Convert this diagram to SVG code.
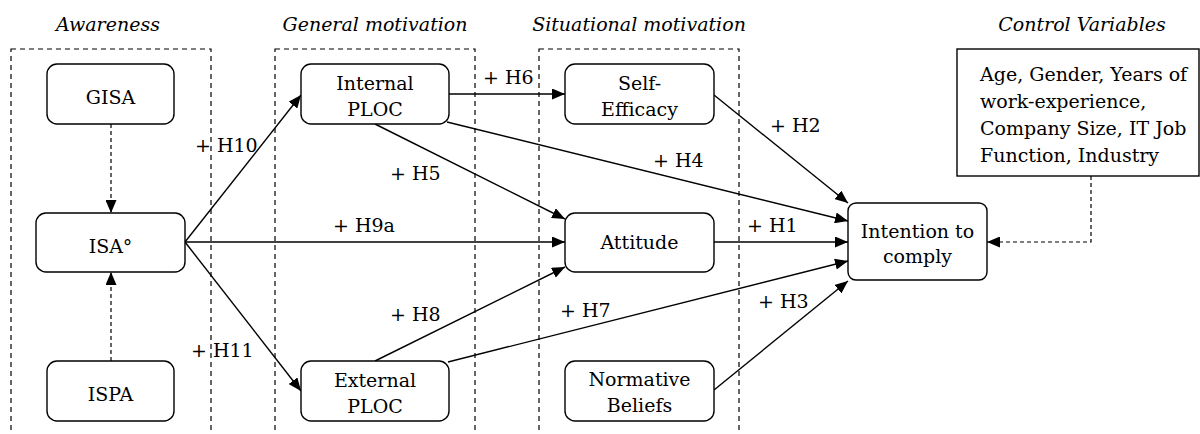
<svg xmlns="http://www.w3.org/2000/svg" width="1200" height="434" viewBox="0 0 1200 434">
<defs>
<marker id="arr" markerUnits="userSpaceOnUse" markerWidth="13" markerHeight="11" refX="13" refY="5.5" orient="auto"><path d="M0,0 L13,5.5 L0,11 z" fill="#000"/></marker>
<style>
text{font-family:"DejaVu Serif","Liberation Serif",serif;font-size:19px;fill:#000}
.hdr{font-style:italic;text-anchor:middle}
.grp{fill:none;stroke:#000;stroke-width:1.2;stroke-dasharray:5,4}
.node rect{fill:#fff;stroke:#000;stroke-width:1.4}
.node text{text-anchor:middle}
.c{fill:none;stroke:#000;stroke-width:1.4;marker-end:url(#arr)}
.d{fill:none;stroke:#000;stroke-width:1.2;stroke-dasharray:4,3;marker-end:url(#arr)}
</style>
</defs>
<rect width="1200" height="434" fill="#fff"/>
<g id="groups">
<rect class="grp" x="11" y="49" width="200" height="400"/>
<rect class="grp" x="275" y="49" width="200" height="400"/>
<rect class="grp" x="539" y="49" width="200" height="400"/>
<text class="hdr" x="108" y="31">Awareness</text>
<text class="hdr" x="375" y="31">General motivation</text>
<text class="hdr" x="639" y="31">Situational motivation</text>
<text class="hdr" x="1082" y="31">Control Variables</text>
</g>
<g id="connectors">
<line class="d" x1="111" y1="124" x2="111" y2="213"/>
<line class="d" x1="111" y1="361" x2="111" y2="272"/>
<line class="c" x1="185" y1="242" x2="301" y2="95"/>
<line class="c" x1="185" y1="242" x2="301" y2="391"/>
<line class="c" x1="185" y1="242" x2="565" y2="242"/>
<line class="c" x1="449" y1="94" x2="565" y2="94"/>
<line class="c" x1="375" y1="124" x2="565" y2="219"/>
<line class="c" x1="447" y1="122" x2="848" y2="221"/>
<line class="c" x1="714" y1="95" x2="848" y2="203"/>
<line class="c" x1="714" y1="242" x2="848" y2="242"/>
<line class="c" x1="375" y1="361" x2="565" y2="267"/>
<line class="c" x1="448" y1="362" x2="848" y2="261"/>
<line class="c" x1="714" y1="390" x2="848" y2="281"/>
<polyline class="d" points="1091,176 1091,242 987,242"/>
<text x="195" y="152">+ H10</text>
<text x="191" y="357">+ H11</text>
<text x="333" y="232">+ H9a</text>
<text x="483" y="84">+ H6</text>
<text x="390" y="180">+ H5</text>
<text x="653" y="167">+ H4</text>
<text x="770" y="132">+ H2</text>
<text x="747" y="232">+ H1</text>
<text x="390" y="321">+ H8</text>
<text x="560" y="317">+ H7</text>
<text x="758" y="308">+ H3</text>
</g>
<g id="GISA" class="node"><rect x="47" y="64" width="127" height="60" rx="10"/><text x="110.5" y="104">GISA</text></g>
<g id="ISA" class="node"><rect x="36" y="213" width="149" height="59" rx="10"/><text x="110.5" y="253">ISA°</text></g>
<g id="ISPA" class="node"><rect x="47" y="361" width="127" height="60" rx="10"/><text x="110.5" y="401">ISPA</text></g>
<g id="InternalPLOC" class="node"><rect x="301" y="64" width="148" height="60" rx="10"/><text x="375" y="90">Internal</text><text x="375" y="116">PLOC</text></g>
<g id="ExternalPLOC" class="node"><rect x="301" y="361" width="148" height="60" rx="10"/><text x="375" y="387">External</text><text x="375" y="413">PLOC</text></g>
<g id="SelfEfficacy" class="node"><rect x="565" y="64" width="149" height="60" rx="10"/><text x="639.5" y="90">Self-</text><text x="639.5" y="116">Efficacy</text></g>
<g id="Attitude" class="node"><rect x="565" y="213" width="149" height="59" rx="10"/><text x="639.5" y="249">Attitude</text></g>
<g id="NormativeBeliefs" class="node"><rect x="565" y="361" width="149" height="60" rx="10"/><text x="639.5" y="386">Normative</text><text x="639.5" y="412">Beliefs</text></g>
<g id="Intention" class="node"><rect x="848" y="203" width="139" height="77" rx="8"/><text x="917.5" y="238">Intention to</text><text x="917.5" y="263">comply</text></g>
<g id="ControlVariables"><rect x="957" y="49" width="242" height="127" fill="#fff" stroke="#000" stroke-width="1.4"/>
<text x="980" y="81">Age, Gender, Years of</text>
<text x="980" y="108">work-experience,</text>
<text x="980" y="135">Company Size, IT Job</text>
<text x="980" y="162">Function, Industry</text></g>
</svg>
